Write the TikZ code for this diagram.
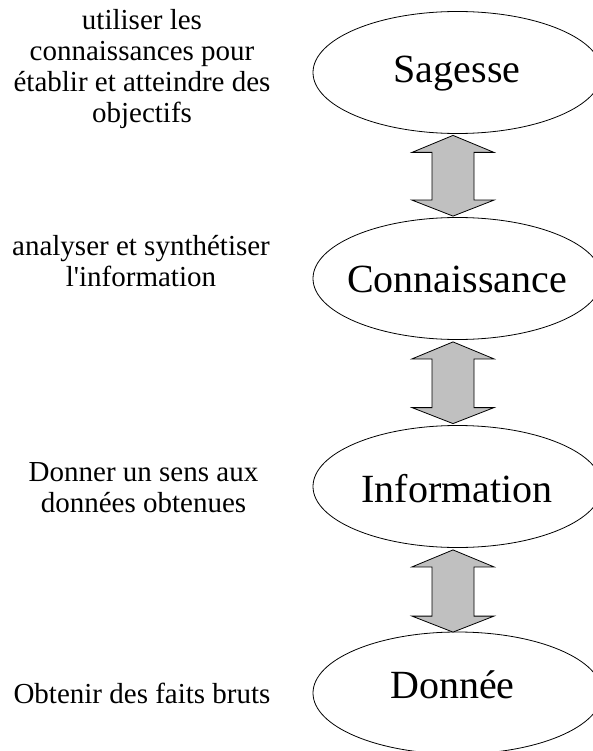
\documentclass[tikz,border=0pt]{standalone}
\usepackage{fontspec}
\setmainfont{Liberation Serif}[Ligatures=TeXOff]
\usetikzlibrary{shapes.geometric,calc}
\definecolor{arrowgray}{HTML}{C0C0C0}
\newcommand\dblarrow[2]{%
  \draw[dblarr] (#1) -- ($(#1)+(41,17)$) -- ($(#1)+(21,17)$) -- ($(#2)+(21,-16)$) -- ($(#2)+(41,-16)$) -- (#2)
    -- ($(#2)+(-41,-16)$) -- ($(#2)+(-21,-16)$) -- ($(#1)+(-21,17)$) -- ($(#1)+(-41,17)$) -- cycle;}
\begin{document}
\begin{tikzpicture}[x=1pt,y=-1pt,
  ell/.style={draw=black,line width=0.8pt,ellipse,minimum width=289pt,minimum height=122pt,inner sep=0pt},
  big/.style={font=\fontsize{40}{46}\selectfont,anchor=base,inner sep=0pt},
  side/.style={font=\fontsize{29}{31}\selectfont,align=center,anchor=base,inner sep=0pt},
  dblarr/.style={draw=black,fill=arrowgray,line width=0.8pt,line join=miter}]
\useasboundingbox (0,0) rectangle (593,751);
\clip (0,0) rectangle (593,751);
\fill[white] (0,0) rectangle (593,751);
% ellipses
\node[ell] (sag) at (457.5,72.5) {};
\node[ell] (con) at (457.5,278.5) {};
\node[ell] (inf) at (457.5,486.5) {};
\node[ell] (don) at (457.5,693) {};
% labels in ellipses
\node[big] (tsag) at (457,83) {Sagesse};
\node[big] (tcon) at (457,292) {Connaissance};
\node[big] (tinf) at (457,502) {Information};
\node[big] (tdon) at (452.5,698) {Donnée};
% arrows
\coordinate (a1) at ($(sag.south)+(-4.5,1.5)$);
\coordinate (b1) at ($(con.north)+(-4.5,-1)$);
\coordinate (a2) at ($(con.south)+(-4.5,2)$);
\coordinate (b2) at ($(inf.north)+(-4.5,-1.5)$);
\coordinate (a3) at ($(inf.south)+(-4.5,2)$);
\coordinate (b3) at ($(don.north)+(-4.5,0.5)$);
\dblarrow{a1}{b1}
\dblarrow{a2}{b2}
\dblarrow{a3}{b3}
% side texts (anchor=base is the baseline of the last line)
\node[side] (d1) at (142,123) {utiliser les\\connaissances pour\\établir et atteindre des\\objectifs};
\node[side] (d2) at (141,286.5) {analyser et synthétiser\\l'information};
\node[side] (d3) at (143.5,512) {Donner un sens aux\\données obtenues};
\node[side] (d4) at (142,703) {Obtenir des faits bruts};
\end{tikzpicture}
\end{document}
